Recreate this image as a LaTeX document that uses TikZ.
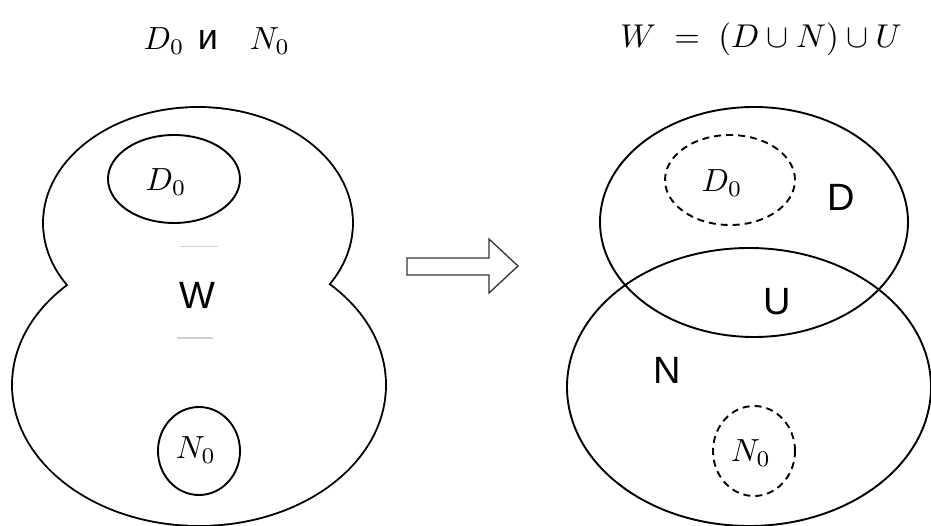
\documentclass[tikz,border=0pt]{standalone}
\usepackage[no-math]{fontspec}
\setmainfont{Liberation Sans}
\begin{document}
\begin{tikzpicture}[x=1pt,y=1pt, line width=1.9pt,
  big/.style={font=\fontsize{38}{40}\selectfont, inner sep=0pt},
  mth/.style={scale=3.2, inner sep=0pt},
  dsh/.style={dash pattern=on 7pt off 5pt},
  ghost/.style={draw=black!18, line width=1pt}]
\useasboundingbox (0,0) rectangle (931,-526);
% ---------- left figure: union outline of two lobes
\draw[line width=3.8pt] (198,-223) ellipse [x radius=154, y radius=115];
\draw[line width=3.8pt] (199,-385) ellipse [x radius=186, y radius=140];
\fill[white] (198,-223) ellipse [x radius=154, y radius=115];
\fill[white] (199,-385) ellipse [x radius=186, y radius=140];
\draw (174,-179) ellipse [x radius=66, y radius=44];
\draw (199,-451) ellipse [x radius=41, y radius=44];
\node[mth] (ld0) at (166,-182) {$D_0$};
\node[mth] (ln0) at (196,-450) {$N_0$};
\node[big] (lw) at (197,-295) {W};
\draw[ghost] (180,-247) -- (218,-247);
\draw[ghost] (177,-338) -- (213,-338);
% ---------- arrow
\draw[line width=1.3pt, black!80, line join=miter]
  (407,-258) -- (489,-258) -- (489,-239) -- (518,-266) -- (489,-293)
  -- (489,-275) -- (407,-275) -- cycle;
% ---------- right figure
\draw (754,-222) ellipse [x radius=154, y radius=115];
\draw (749,-387) ellipse [x radius=182, y radius=139];
\draw[dsh] (730,-180) ellipse [x radius=65, y radius=45];
\draw[dsh] (754,-451) ellipse [x radius=41, y radius=45];
\node[mth] (rd0) at (722,-183) {$D_0$};
\node[mth] (rn0) at (751,-453) {$N_0$};
\node[big] (rd) at (841,-197) {D};
\node[big] (ru) at (777,-302) {U};
\node[big] (rn) at (667,-370) {N};
% ---------- titles
\node[mth, anchor=base] (td0) at (164,-50) {$D_0$};
\node[font=\fontsize{36}{38}\selectfont, inner sep=0pt, anchor=base] (ti) at (208,-50) {и};
\node[mth, anchor=base] (tn0) at (270,-50) {$N_0$};
\node[mth, scale=1.03, anchor=base] (teq) at (761,-48) {$W \;=\; (D \cup N) \cup U$};
\end{tikzpicture}
\end{document}
